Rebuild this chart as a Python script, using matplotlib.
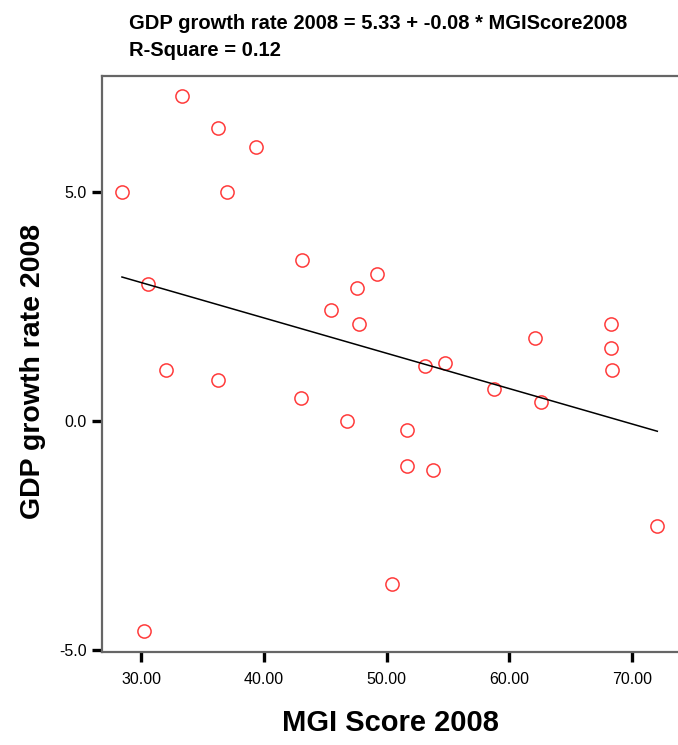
import numpy as np
import matplotlib
matplotlib.use("Agg")
import matplotlib.pyplot as plt

# === Data ===
mgi_score = [28.45, 33.34, 36.27, 39.36, 37.0, 30.57, 43.1, 49.2, 47.6, 45.47,
             47.75, 62.08, 68.27, 68.27, 68.35, 53.13, 54.76, 58.76, 62.57, 32.04,
             36.3, 43.0, 46.75, 51.64, 51.64, 53.78, 72.05, 50.46, 30.27]
gdp_growth = [5.0, 7.10, 6.40, 6.00, 5.0, 2.99, 3.52, 3.21, 2.90, 2.42,
              2.12, 1.81, 2.12, 1.59, 1.11, 1.20, 1.27, 0.71, 0.41, 1.11,
              0.89, 0.50, 0.01, -0.20, -0.99, -1.08, -2.30, -3.57, -4.58]
x_ticks = [30, 40, 50, 60, 70]
y_ticks = [-5, 0, 5]
title_lines = ["GDP growth rate 2008 = 5.33 + -0.08 * MGIScore2008",
               "R-Square = 0.12"]

x = np.array(mgi_score)
y = np.array(gdp_growth)

fig = plt.figure(figsize=(6.78, 7.45), dpi=100)
ax = fig.add_axes([0.150, 0.1248, 0.853, 0.7736])

ax.plot(x, y, linestyle="none", marker="o", markersize=9.5, markerfacecolor="none",
        markeredgecolor="#ff3b3b", markeredgewidth=1.1)

# fitted line over the data range
slope, intercept = np.polyfit(x, y, 1)
xs = np.array([x.min(), x.max()])
ax.plot(xs, intercept + slope * xs, color="black", linewidth=1.1)

ax.set_xlim(26.8, 73.9)
ax.set_ylim(-5.05, 7.55)
ax.set_xticks(x_ticks)
ax.set_xticklabels([f"{t:.2f}" for t in x_ticks])
ax.set_yticks(y_ticks)
ax.set_yticklabels([f"{t:.1f}" for t in y_ticks])

for side in ["left", "top", "bottom"]:
    ax.spines[side].set_color("#666666")
    ax.spines[side].set_linewidth(1.6)
ax.spines["right"].set_visible(False)

font_list = ["Liberation Sans", "DejaVu Sans"]
ax.tick_params(direction="out", length=7.5, width=2.4, color="black", pad=3)
ax.tick_params(axis="x", pad=7)
for lab in ax.get_xticklabels() + ax.get_yticklabels():
    lab.set_fontfamily(font_list)
    lab.set_fontsize(11.5)

ax.set_xlabel("MGI Score 2008", fontsize=21, fontweight="bold", family=font_list, labelpad=16)
ax.set_ylabel("GDP growth rate 2008", fontsize=20.5, fontweight="bold", family=font_list, labelpad=9.5)
ax.yaxis.label.set_y(0.487)

fig.text(129 / 678, 1 - 29 / 745, title_lines[0], fontsize=14.5, fontweight="bold",
         family=font_list, va="baseline", ha="left")
fig.text(129 / 678, 1 - 56 / 745, title_lines[1], fontsize=14.5, fontweight="bold",
         family=font_list, va="baseline", ha="left")

fig.savefig("out.png", dpi=100)
